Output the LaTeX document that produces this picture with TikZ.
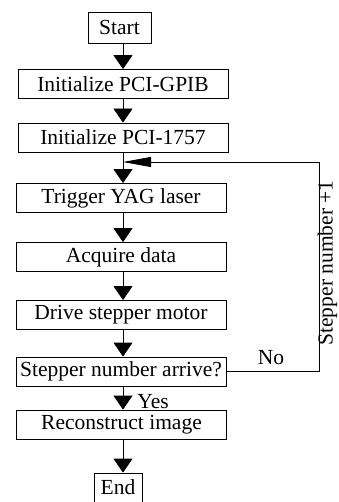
\documentclass[tikz,border=0pt]{standalone}
\usepackage{fontspec}
\setmainfont{Liberation Serif}
\usetikzlibrary{arrows.meta}

\begin{document}
\begin{tikzpicture}[x=1pt, y=-1pt, line width=0.8pt]
  \tikzset{every node/.style={font=\fontsize{21.5}{24}\selectfont, inner sep=0pt},
           stepbox/.style={draw, minimum width=210pt, minimum height=29pt},
           flow/.style={-{Triangle[length=14pt,width=19pt]}},
           back/.style={-{Triangle[length=28pt,width=10pt]}}}
  \clip (0,0) rectangle (338,502);
  % main column
  \node[draw, minimum width=63pt, minimum height=31pt] (start) at (119.5,27.5) {Start};
  \node[stepbox] (gpib)  at (123,84)    {Initialize PCI-GPIB};
  \node[stepbox] (pci)   at (123,137.5) {Initialize PCI-1757};
  \node[stepbox] (laser) at (121,198)   {Trigger YAG laser};
  \node[stepbox] (data)  at (121,257)   {Acquire data};
  \node[stepbox] (motor) at (121,315)   {Drive stepper motor};
  \node[stepbox] (check) at (121,371.5) {Stepper number arrive?};
  \node[stepbox] (image) at (121.5,424.5) {Reconstruct image};
  \node[draw, minimum width=48pt, minimum height=29pt] (end) at (118,487.5) {End};
  % arrows down
  \draw[flow] (start.south -| pci) -- (gpib.north);
  \draw[flow] (gpib) -- (pci.north);
  \draw[flow] (pci.south) -- (laser.north -| pci);
  \draw[flow] (laser.south -| pci) -- (data.north -| pci);
  \draw[flow] (data.south -| pci) -- (motor.north -| pci);
  \draw[flow] (motor.south -| pci) -- (check.north -| pci);
  \draw[flow] (check.south -| pci) -- (image.north -| pci);
  \draw[flow] (image.south -| pci) -- (end.north -| pci);
  % loop back
  \coordinate (corner) at (319,371.5);
  \coordinate (top) at (319,162);
  \draw[back] (check.east) -- (corner) -- (top) -- (top -| pci);
  \node[anchor=base] (no) at (271,364) {No};
  \node[anchor=base west] (yes) at (137,408) {Yes};
  \node[rotate=90, anchor=base] (inc) at (332.5,263) {Stepper number +1};
\end{tikzpicture}
\end{document}
